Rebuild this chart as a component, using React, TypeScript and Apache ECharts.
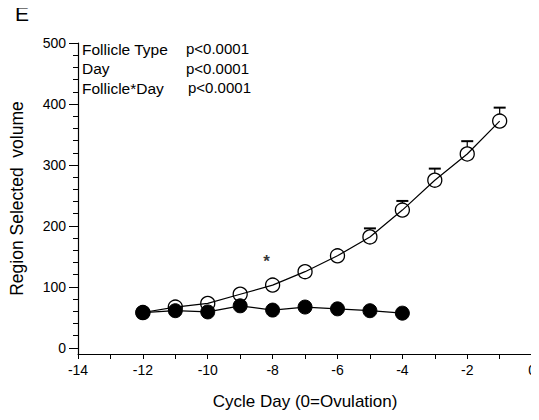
import React, { useEffect, useRef } from "react";
import * as echarts from "echarts";

// Cycle days (0 = ovulation)
const daysOpen = [-12, -11, -10, -9, -8, -7, -6, -5, -4, -3, -2, -1];
const volumeOpen = [58, 67, 73, 88, 103, 125, 151, 182, 226, 275, 318, 372];
const semOpen = [3, 3, 4, 5, 5, 12, 11, 14, 15, 19, 21, 22];

const daysFilled = [-12, -11, -10, -9, -8, -7, -6, -5, -4];
const volumeFilled = [58, 61, 59, 69, 62, 67, 64, 61, 57];

const yMajorTicks = [0, 100, 200, 300, 400, 500];
const yMinorTicks = [
  20, 40, 60, 80, 120, 140, 160, 180, 220, 240, 260, 280, 320, 340, 360, 380,
  420, 440, 460, 480,
];

const significantDay = -8;
const significanceMarkY = 146;

const statsRows = [
  ["Follicle Type", "p<0.0001"],
  ["Day", "p<0.0001"],
  ["Follicle*Day", "p<0.0001"],
];

const FONT = "'Liberation Sans', Arial, sans-serif";
const MARKER = 14;

export default function App() {
  const ref = useRef<HTMLDivElement>(null);

  useEffect(() => {
    if (!ref.current) return;
    const chart = echarts.init(ref.current, null, { renderer: "svg" });

    const openData = daysOpen.map((d, i) => [d, volumeOpen[i], semOpen[i]]);
    const filledData = daysFilled.map((d, i) => [d, volumeFilled[i]]);

    const statsGraphics: any[] = [];
    statsRows.forEach((row, i) => {
      statsGraphics.push({
        type: "text",
        left: 82,
        top: 41 + i * 19.5,
        style: { text: row[0], font: `15.5px ${FONT}`, fill: "#000" },
      });
      statsGraphics.push({
        type: "text",
        left: i === 2 ? 188 : 186,
        top: 41 + i * 19.5,
        style: { text: row[1], font: `15px ${FONT}`, fill: "#000" },
      });
    });

    chart.setOption({
      animation: false,
      backgroundColor: "#fff",
      textStyle: { fontFamily: FONT, color: "#000" },
      grid: { left: 77, right: 4, top: 43, bottom: 66 },
      graphic: [
        {
          type: "text",
          left: 15,
          top: 3,
          style: { text: "E", font: `21px ${FONT}`, fill: "#000" },
        },
        ...statsGraphics,
      ],
      xAxis: {
        type: "value",
        min: -14,
        max: 0,
        interval: 2,
        name: "Cycle Day (0=Ovulation)",
        nameLocation: "middle",
        nameGap: 39,
        nameTextStyle: { fontSize: 17, color: "#000", fontFamily: FONT },
        splitLine: { show: false },
        axisLine: { onZero: false, lineStyle: { color: "#000", width: 1.2 } },
        axisTick: { inside: false, length: 5, lineStyle: { color: "#000" } },
        minorTick: { show: true, splitNumber: 2, length: 5, lineStyle: { color: "#000" } },
        axisLabel: { fontSize: 14, color: "#000", margin: 9, fontFamily: FONT },
      },
      yAxis: [
        {
          type: "value",
          min: -10,
          max: 500,
          position: "left",
          name: "Region Selected  volume",
          nameLocation: "middle",
          nameGap: 52,
          nameTextStyle: { fontSize: 17.5, color: "#000", fontFamily: FONT },
          splitLine: { show: false },
          axisLine: { show: true, onZero: false, lineStyle: { color: "#000", width: 1.2 } },
          axisTick: {
            show: true,
            length: 9,
            customValues: yMajorTicks,
            lineStyle: { color: "#000" },
          },
          axisLabel: {
            customValues: yMajorTicks,
            fontSize: 14,
            color: "#000",
            margin: 12,
            fontFamily: FONT,
          },
        },
        {
          type: "value",
          min: -10,
          max: 500,
          position: "left",
          splitLine: { show: false },
          axisLine: { show: false, onZero: false },
          axisTick: {
            show: true,
            length: 5,
            customValues: yMinorTicks,
            lineStyle: { color: "#000" },
          },
          axisLabel: { show: false },
        },
      ],
      series: [
        {
          type: "custom",
          name: "sem",
          yAxisIndex: 0,
          z: 1,
          data: openData,
          renderItem: (_params: any, api: any) => {
            const x = api.value(0);
            const y = api.value(1);
            const e = api.value(2);
            const c = api.coord([x, y]);
            const t = api.coord([x, y + e]);
            const edge = c[1] - MARKER / 2;
            if (t[1] >= edge - 1) return { type: "group", children: [] };
            const half = 6;
            return {
              type: "group",
              children: [
                {
                  type: "line",
                  shape: { x1: c[0], y1: edge, x2: c[0], y2: t[1] },
                  style: { stroke: "#000", lineWidth: 1.2 },
                },
                {
                  type: "line",
                  shape: { x1: c[0] - half, y1: t[1], x2: c[0] + half, y2: t[1] },
                  style: { stroke: "#000", lineWidth: 2 },
                },
              ],
            };
          },
        },
        {
          type: "line",
          name: "open",
          data: openData.map((d) => [d[0], d[1]]),
          symbol: "circle",
          symbolSize: MARKER,
          showSymbol: true,
          z: 2,
          lineStyle: { color: "#000", width: 1.2 },
          itemStyle: { color: "rgba(255,255,255,0)", borderColor: "#000", borderWidth: 1.3 },
        },
        {
          type: "line",
          name: "filled",
          data: filledData,
          symbol: "circle",
          symbolSize: MARKER,
          z: 3,
          lineStyle: { color: "#000", width: 1.2 },
          itemStyle: { color: "#000", borderColor: "#000", borderWidth: 1 },
        },
        {
          type: "scatter",
          name: "significance",
          data: [[significantDay, significanceMarkY]],
          symbolSize: 0,
          z: 4,
          label: {
            show: true,
            formatter: "*",
            position: "inside",
            offset: [-6, 3],
            fontSize: 17,
            fontWeight: "bold",
            color: "#000",
            fontFamily: FONT,
          },
        },
      ],
    });

    return () => chart.dispose();
  }, []);

  return <div ref={ref} style={{ width: 539, height: 420, margin: -8 }} />;
}
